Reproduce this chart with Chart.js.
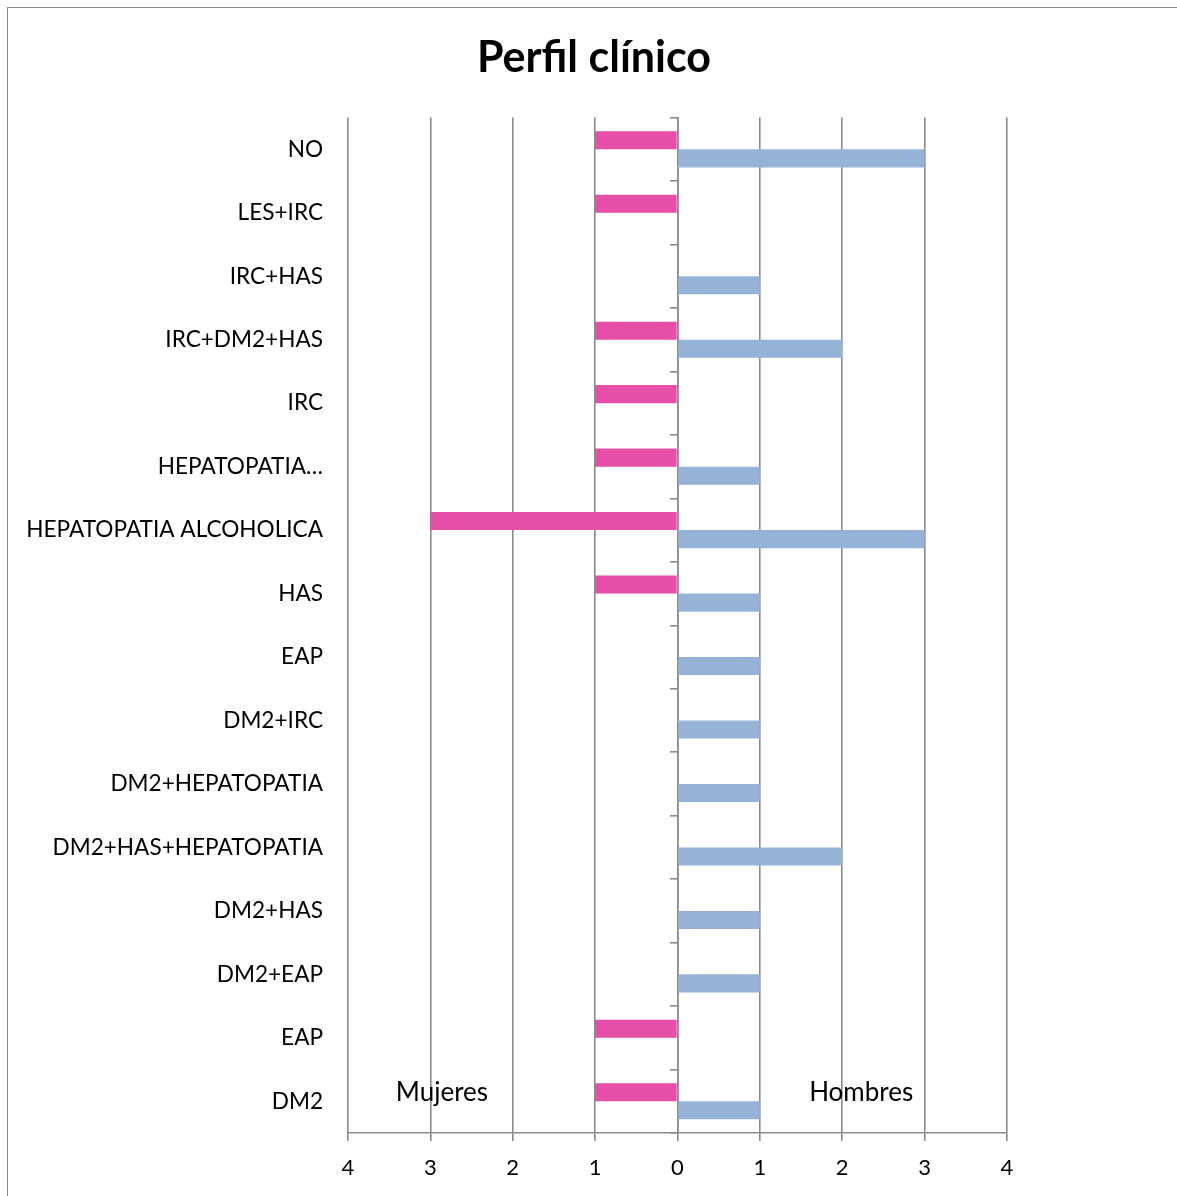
<!DOCTYPE html>
<html>
<head>
<meta charset="utf-8">
<script src="https://cdn.jsdelivr.net/npm/chart.js@4.4.1/dist/chart.umd.min.js"></script>
<style>
    body { margin: 0; background: #fff; overflow: hidden; }
    #frame {
        position: absolute; left: 7px; top: 7px;
        width: 1180px; height: 1200px;
        border: 1px solid #8a8a8a;
        box-sizing: border-box;
    }
    #wrap { position: absolute; left: 0; top: 0; width: 1172px; height: 1188px; }
</style>
</head>
<body>
<div id="frame"><div id="wrap"><canvas id="perfilChart"></canvas></div></div>
<script>
const categories = [
    'NO', 'LES+IRC', 'IRC+HAS', 'IRC+DM2+HAS', 'IRC', 'HEPATOPATIA…',
    'HEPATOPATIA ALCOHOLICA', 'HAS', 'EAP', 'DM2+IRC', 'DM2+HEPATOPATIA',
    'DM2+HAS+HEPATOPATIA', 'DM2+HAS', 'DM2+EAP', 'EAP', 'DM2'
];
// women plotted to the left (negative), null = no bar
const mujeres = [-1, -1, null, -1, -1, -1, -3, -1, null, null, null, null, null, null, -1, -1];
const hombres = [3, null, 1, 2, null, 1, 3, 1, 1, 1, 1, 2, 1, 1, null, 1];
const xTicks = [-4, -3, -2, -1, 0, 1, 2, 3, 4];

const FONT = 'Lato, "Open Sans", sans-serif';
const gridGray = '#8a8a8a';

// side captions inside the plot
const sideLabels = {
    id: 'sideLabels',
    afterDatasetsDraw(chart) {
        const ctx = chart.ctx;
        const x = chart.scales.x;
        const y = chart.scales.y;
        const yPos = y.getPixelForValue(categories.length - 1) - 9;
        ctx.save();
        ctx.font = '26px ' + FONT;
        ctx.fillStyle = '#000';
        ctx.textAlign = 'center';
        ctx.textBaseline = 'middle';
        ctx.fillText('Mujeres', x.getPixelForValue(-2.86), yPos);
        ctx.fillText('Hombres', x.getPixelForValue(2.23), yPos);
        ctx.restore();
    }
};

document.addEventListener('DOMContentLoaded', () => {
    const ctx = document.getElementById('perfilChart').getContext('2d');
    window.perfilChart = new Chart(ctx, {
        type: 'bar',
        data: {
            labels: categories,
            datasets: [{
                label: 'Mujeres',
                data: mujeres,
                backgroundColor: '#e64fa7',
                borderWidth: 0
            }, {
                label: 'Hombres',
                data: hombres,
                backgroundColor: '#95b3d7',
                borderWidth: 0
            }]
        },
        options: {
            indexAxis: 'y',
            responsive: true,
            maintainAspectRatio: false,
            animation: false,
            datasets: {
                bar: { categoryPercentage: 0.57, barPercentage: 1.0 }
            },
            plugins: {
                legend: { display: false },
                tooltip: { enabled: false },
                title: {
                    display: true,
                    text: 'Perfil clínico',
                    color: '#000',
                    font: { family: FONT, size: 43, weight: 'bold', lineHeight: 1.2 },
                    padding: { top: 24, bottom: 34 }
                }
            },
            scales: {
                x: {
                    min: -4,
                    max: 4,
                    afterBuildTicks: (s) => { s.ticks = xTicks.map(v => ({ value: v })); },
                    afterFit: (s) => { s.height = 63; },
                    ticks: {
                        color: '#000',
                        font: { family: FONT, size: 22 },
                        padding: 14,
                        callback: (v) => Math.abs(v)
                    },
                    grid: { color: gridGray, lineWidth: 1.6, tickLength: 8 },
                    border: { color: gridGray, width: 1.6 }
                },
                y: {
                    afterFit: (s) => { s.width = 340; },
                    ticks: {
                        color: '#000',
                        font: { family: FONT, size: 22.6 },
                        padding: 25
                    },
                    grid: { display: false, drawTicks: false },
                    border: { display: false }
                },
                // zero line with small category marks
                y2: {
                    type: 'category',
                    labels: categories,
                    position: { x: 0 },
                    offset: true,
                    ticks: { display: false },
                    grid: { drawOnChartArea: false, offset: true, tickLength: 7, color: gridGray, lineWidth: 1.6 },
                    border: { display: true, color: gridGray, width: 1.6 }
                },
                // empty right margin so the title stays centred on the canvas
                yRight: {
                    type: 'category',
                    labels: categories,
                    position: 'right',
                    afterFit: (s) => { s.width = 173; },
                    ticks: { display: false },
                    grid: { display: false, drawTicks: false },
                    border: { display: false }
                }
            }
        },
        plugins: [sideLabels]
    });
});
</script>
</body>
</html>
